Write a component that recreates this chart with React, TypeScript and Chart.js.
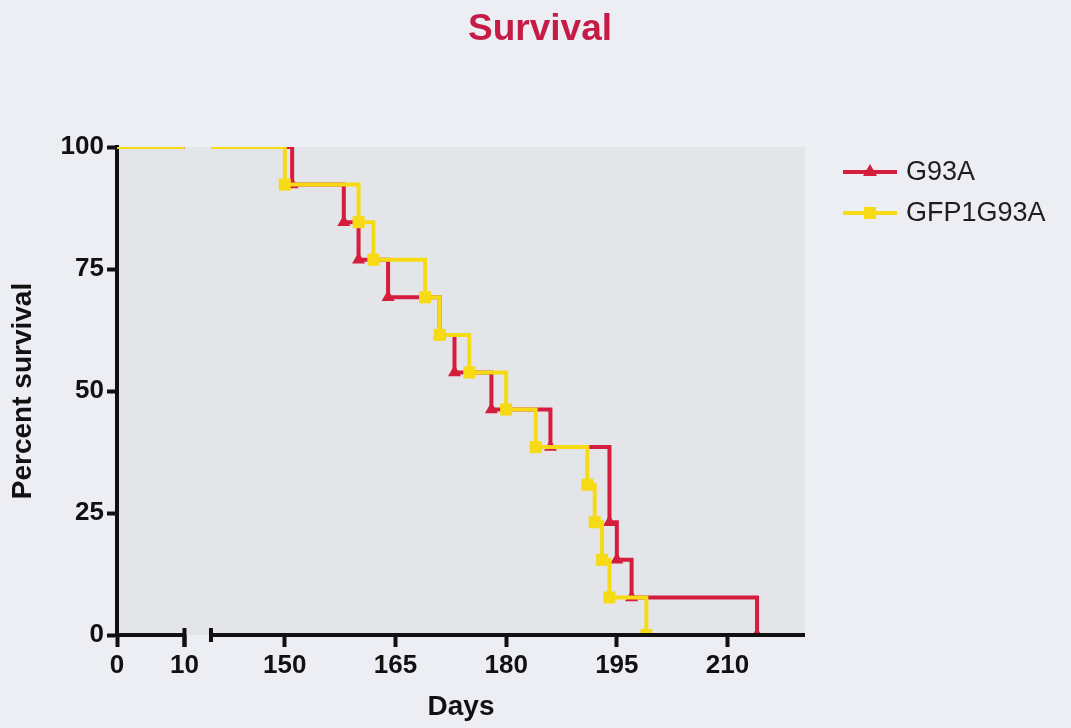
import React, { useEffect, useRef } from "react";
import { Chart, registerables } from "chart.js";

Chart.register(...registerables);

// ---------- data ----------
const chartTitle = "Survival";
const xAxisTitle = "Days";
const yAxisTitle = "Percent survival";
const seriesNames = ["G93A", "GFP1G93A"];

const xTickDays = [0, 10, 150, 165, 180, 195, 210];
const xTickLabels = ["0", "10", "150", "165", "180", "195", "210"];
const yTickValues = [0, 25, 50, 75, 100];

// days of death (Kaplan-Meier steps) and survival after each step
const g93aDays = [151, 158, 160, 164, 171, 173, 178, 186, 194, 195, 197, 214];
const g93aSurvival = [92.3, 84.6, 76.9, 69.2, 61.5, 53.8, 46.2, 38.5, 23.1, 15.4, 7.7, 0];

const gfpDays = [150, 160, 162, 169, 171, 175, 180, 184, 191, 192, 193, 194, 199];
const gfpSurvival = [92.3, 84.6, 76.9, 69.2, 61.5, 53.8, 46.2, 38.5, 30.8, 23.1, 15.4, 7.7, 0];

const startSurvival = 100;
const leftSegmentDays = [0, 10];
const rightSegmentStart = 140;
const rightSegmentEnd = 220.5;

// ---------- broken axis layout ----------
const LEFT_SCALE = 6.75;
const GAP = 26.5;
const RIGHT_SCALE = 7.38;
const LEFT_END = leftSegmentDays[1];

function axisPos(d: number): number {
  if (d <= LEFT_END) return d * LEFT_SCALE;
  return LEFT_END * LEFT_SCALE + GAP + (d - rightSegmentStart) * RIGHT_SCALE;
}

function buildSeries(days: number[], surv: number[]) {
  const pts: any[] = [];
  leftSegmentDays.forEach((d) => pts.push({ x: axisPos(d), y: startSurvival, m: false }));
  pts.push({ x: (axisPos(LEFT_END) + axisPos(rightSegmentStart)) / 2, y: null, m: false });
  pts.push({ x: axisPos(rightSegmentStart), y: startSurvival, m: false });
  days.forEach((d, i) => pts.push({ x: axisPos(d), y: surv[i], m: true }));
  return pts;
}

const RED = "#d51d3e";
const YELLOW = "#f6da14";
const PAGE_BG = "#eceef3";
const PLOT_BG = "#e4e5e8";
const FONT = "'Liberation Sans', Arial, sans-serif";

const decorPlugin = {
  id: "decor",
  beforeDraw(chart: any) {
    const { ctx, chartArea } = chart;
    ctx.save();
    ctx.fillStyle = PAGE_BG;
    ctx.fillRect(0, 0, chart.width, chart.height);
    ctx.fillStyle = PLOT_BG;
    ctx.fillRect(chartArea.left, chartArea.top, chartArea.right - chartArea.left, chartArea.bottom - chartArea.top);
    ctx.restore();
  },
  afterDraw(chart: any) {
    const { ctx, chartArea } = chart;
    const xs = chart.scales.x;
    const yb = chartArea.bottom;
    ctx.save();
    // broken x axis
    ctx.strokeStyle = "#111";
    ctx.lineWidth = 4;
    ctx.lineCap = "butt";
    const xl0 = xs.getPixelForValue(axisPos(0)) - 2;
    const xl1 = xs.getPixelForValue(axisPos(LEFT_END));
    const xr0 = xs.getPixelForValue(axisPos(rightSegmentStart));
    const xr1 = chartArea.right;
    ctx.beginPath();
    ctx.moveTo(xl0, yb);
    ctx.lineTo(xl1, yb);
    ctx.moveTo(xr0, yb);
    ctx.lineTo(xr1, yb);
    ctx.stroke();
    // caps at break
    ctx.beginPath();
    ctx.moveTo(xl1, yb - 7);
    ctx.lineTo(xl1, yb + 12);
    ctx.moveTo(xr0, yb - 7);
    ctx.lineTo(xr0, yb + 7);
    ctx.stroke();

    // title
    ctx.fillStyle = "#c51c47";
    ctx.font = `bold 37px ${FONT}`;
    ctx.textAlign = "center";
    ctx.textBaseline = "middle";
    ctx.fillText(chartTitle, 540, 30);

    // legend
    const colors = [RED, YELLOW];
    const ys = [172, 213];
    seriesNames.forEach((name, i) => {
      const y = ys[i];
      ctx.strokeStyle = colors[i];
      ctx.lineWidth = 4;
      ctx.beginPath();
      ctx.moveTo(843, y);
      ctx.lineTo(897, y);
      ctx.stroke();
      ctx.fillStyle = colors[i];
      if (i === 0) {
        ctx.beginPath();
        ctx.moveTo(870, y - 8);
        ctx.lineTo(877, y + 4);
        ctx.lineTo(863, y + 4);
        ctx.closePath();
        ctx.fill();
      } else {
        ctx.fillRect(864, y - 6, 12, 12);
      }
      ctx.fillStyle = "#1e1e1e";
      ctx.font = `27px ${FONT}`;
      ctx.textAlign = "left";
      ctx.textBaseline = "middle";
      ctx.fillText(name, 906, y + 1);
    });
    ctx.restore();
  },
};

export default function App() {
  const ref = useRef<HTMLCanvasElement | null>(null);

  useEffect(() => {
    document.body.style.margin = "0";
    document.body.style.background = PAGE_BG;
    const canvas = ref.current;
    if (!canvas) return;
    const chart = new Chart(canvas, {
      type: "line",
      data: {
        datasets: [
          {
            label: seriesNames[0],
            data: buildSeries(g93aDays, g93aSurvival),
            borderColor: RED,
            backgroundColor: RED,
            borderWidth: 4,
            stepped: "before",
            spanGaps: false,
            pointStyle: "triangle",
            pointRadius: (c: any) => (c.raw && c.raw.m ? 7.5 : 0),
            pointBorderWidth: 0,
            fill: false,
            order: 1,
          },
          {
            label: seriesNames[1],
            data: buildSeries(gfpDays, gfpSurvival),
            borderColor: YELLOW,
            backgroundColor: YELLOW,
            borderWidth: 4,
            stepped: "before",
            spanGaps: false,
            pointStyle: "rect",
            pointRadius: (c: any) => (c.raw && c.raw.m ? 8.5 : 0),
            pointBorderWidth: 0,
            fill: false,
            order: 0,
          },
        ],
      } as any,
      options: {
        animation: false,
        responsive: false,
        events: [],
        layout: { padding: { top: 147, right: 266, left: 0, bottom: 0 } },
        plugins: { legend: { display: false }, tooltip: { enabled: false }, title: { display: false } },
        scales: {
          x: {
            type: "linear",
            min: axisPos(0),
            max: axisPos(rightSegmentEnd),
            z: 1,
            border: { display: false },
            grid: {
              drawOnChartArea: false,
              drawTicks: true,
              tickLength: 12,
              tickWidth: 4,
              tickColor: "#111",
            },
            afterBuildTicks: (scale: any) => {
              scale.ticks = xTickDays.map((d) => ({ value: axisPos(d) }));
            },
            afterFit: (scale: any) => {
              scale.height = 93;
            },
            ticks: {
              autoSkip: false,
              maxRotation: 0,
              padding: 3,
              color: "#111",
              font: { family: FONT, size: 26, weight: "bold" },
              callback: (_v: any, i: number) => xTickLabels[i],
            },
            title: {
              display: true,
              text: xAxisTitle,
              color: "#111",
              font: { family: FONT, size: 28, weight: "bold" },
              padding: { top: 0, bottom: 4 },
            },
          },
          y: {
            type: "linear",
            min: 0,
            max: 100,
            z: 1,
            border: { display: true, color: "#111", width: 4 },
            grid: {
              drawOnChartArea: false,
              drawTicks: true,
              tickLength: 10,
              tickWidth: 4,
              tickColor: "#111",
            },
            afterBuildTicks: (scale: any) => {
              scale.ticks = yTickValues.map((v) => ({ value: v }));
            },
            afterFit: (scale: any) => {
              scale.width = 117;
            },
            ticks: {
              padding: 3,
              color: "#111",
              font: { family: FONT, size: 26, weight: "bold" },
            },
            title: {
              display: true,
              text: yAxisTitle,
              color: "#111",
              font: { family: FONT, size: 28, weight: "bold" },
              padding: { top: 6, bottom: 0 },
            },
          },
        },
      } as any,
      plugins: [decorPlugin],
    });
    return () => chart.destroy();
  }, []);

  return <canvas ref={ref} width={1071} height={728} style={{ display: "block" }} />;
}
